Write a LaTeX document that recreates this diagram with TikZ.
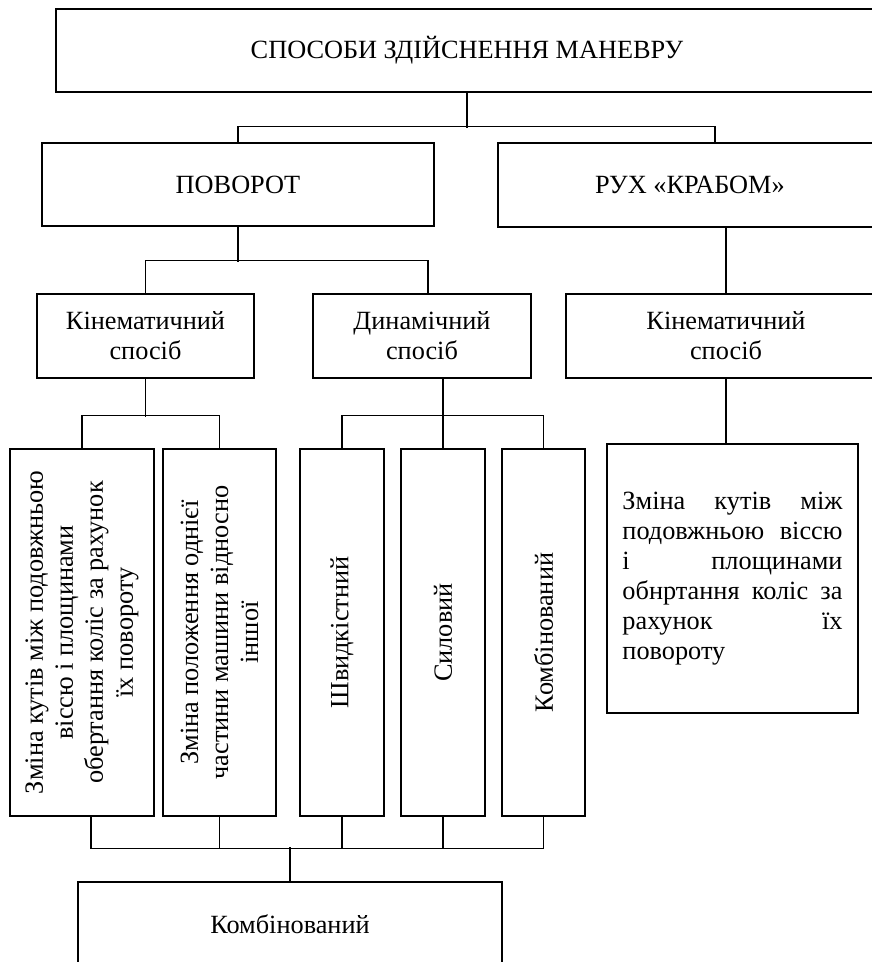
\documentclass[tikz,border=0pt]{standalone}
\usepackage{fontspec}
\setmainfont{Liberation Serif}
\usetikzlibrary{calc}

\begin{document}
\begin{tikzpicture}[x=0.025cm, y=-0.025cm, line width=0.9pt,
    box/.style={draw, line width=0.9pt, inner sep=0pt, align=center, font=\fontsize{18.7}{21.3}\selectfont},
    vbox/.style={box, rotate=90, minimum width=9.175cm}]
      \useasboundingbox (0,0) rectangle (872,962);

      % Top level
      \node[box, minimum width=20.55cm, minimum height=2.075cm] (root) at (467,50.5) {СПОСОБИ ЗДІЙСНЕННЯ МАНЕВРУ};
      \node[box, minimum width=9.8cm, minimum height=2.075cm] (turn) at (238,184.5) {ПОВОРОТ};
      \node[box, minimum width=9.6cm, minimum height=2.1cm] (crab) at (690,185) {РУХ «КРАБОМ»};

      % Ways of turning
      \node[box, minimum width=5.425cm, minimum height=2.1cm] (kin) at (145.5,336) {Кінематичний\\спосіб};
      \node[box, minimum width=5.45cm, minimum height=2.1cm] (dyn) at (422,336) {Динамічний\\спосіб};
      \node[box, minimum width=8cm, minimum height=2.1cm] (kincrab) at (726,336) {Кінематичний\\спосіб};

      % Kinematic (vertical boxes)
      \node[vbox, minimum height=3.6cm] (angle) at (82,632.5) {Зміна кутів між подовжньою\\віссю і площинами\\обертання коліс за рахунок\\їх повороту};
      \node[vbox, minimum height=2.825cm] (frame) at (219.5,632.5) {Зміна положення однієї\\частини машини відносно\\іншої};

      % Dynamic (vertical boxes)
      \node[vbox, minimum height=2.1cm] (speed) at (342,632.5) {Швидкістний};
      \node[vbox, minimum height=2.1cm] (force) at (443,632.5) {Силовий};
      \node[vbox, minimum height=2.075cm] (mixdyn) at (543.5,632.5) {Комбінований};

      % Crab motion
      \node[box, minimum width=6.275cm, minimum height=6.725cm, text width=5.5cm, align=justify] (crabangle) at (732.5,578.5)
        {Зміна кутів між\linebreak подовжньою віссю\linebreak і площинами\linebreak обнртання коліс за\linebreak рахунок їх\linebreak повороту};

      % Bottom
      \node[box, minimum width=10.6cm, minimum height=2.1cm] (comb) at (290,924) {Комбінований};

      % Connectors, top
      \draw (root.south) -- ++(0,35);
      \draw (turn.north) -- ++(0,-16) -| ($(crab.north)+(25,0)$);
      \draw (turn.south) -- ++(0,35);
      \draw (kin.north) -- ++(0,-33) -| ($(dyn.north)+(6,0)$);
      \draw (kincrab.north |- crab.south) -- (kincrab.north);
      \draw (kincrab.south) -- (kincrab.south |- crabangle.north);

      % Connectors, middle
      \draw (kin.south) -- ++(0,38);
      \draw (angle.east) -- ++(0,-33) -| (frame.east);
      \draw (dyn.south -| force.east) -- (force.east);
      \draw (speed.east) -- ++(0,-33) -| (mixdyn.east);

      % Connectors, bottom
      \draw ($(angle.west)+(9,0)$) -- ++(0,32) -| (mixdyn.west);
      \foreach \n in {frame,speed,force} \draw (\n.west) -- ++(0,32);
      \draw (comb.north) -- ++(0,-34);
\end{tikzpicture}
\end{document}
